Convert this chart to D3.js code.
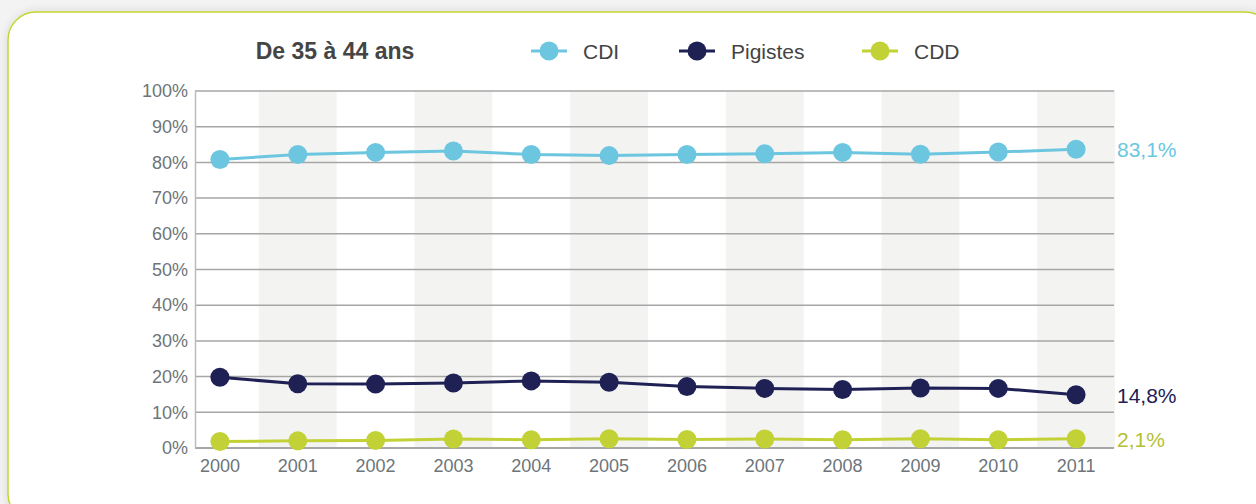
<!DOCTYPE html>
<html>
<head>
<meta charset="utf-8">
<script src="https://cdn.jsdelivr.net/npm/d3@7"></script>
<style>
  body { margin: 0; background: #f3f3f3; font-family: "Liberation Sans", Arial, sans-serif; }
  svg { display: block; }
</style>
</head>
<body>
<svg width="1256" height="504"></svg>
<script>
// data
var years = ["2000", "2001", "2002", "2003", "2004", "2005", "2006", "2007", "2008", "2009", "2010", "2011"];
var cdi = [80.8, 82.2, 82.8, 83.2, 82.2, 81.9, 82.2, 82.4, 82.8, 82.3, 82.9, 83.7];
var pigistes = [19.8, 18.0, 17.9, 18.2, 18.8, 18.4, 17.2, 16.7, 16.4, 16.8, 16.7, 14.9];
var cdd = [1.8, 2.0, 2.1, 2.5, 2.3, 2.6, 2.4, 2.5, 2.3, 2.6, 2.3, 2.6];
var yTicks = [0, 10, 20, 30, 40, 50, 60, 70, 80, 90, 100];
var endLabels = ["83,1%", "14,8%", "2,1%"];
var seriesNames = ["CDI", "Pigistes", "CDD"];
var title = "De 35 à 44 ans";

var colors = ["#6cc6e0", "#1f2155", "#c2d136"];
var labelColors = ["#6cc6e0", "#1f2155", "#b5bf35"];

var svg = d3.select("svg");

// card with soft shadow
var defs = svg.append("defs");
var f = defs.append("filter").attr("id", "sh").attr("x", "-5%").attr("y", "-5%").attr("width", "110%").attr("height", "110%");
f.append("feGaussianBlur").attr("in", "SourceAlpha").attr("stdDeviation", 5);
f.append("feComponentTransfer").append("feFuncA").attr("type", "linear").attr("slope", 0.12);
var m = f.append("feMerge");
m.append("feMergeNode");
m.append("feMergeNode").attr("in", "SourceGraphic");

svg.append("rect")
    .attr("x", 8).attr("y", 12)
    .attr("width", 1265).attr("height", 510)
    .attr("rx", 28).attr("ry", 28)
    .attr("fill", "#fff")
    .attr("stroke", "#c3d630")
    .attr("stroke-width", 1.5)
    .attr("filter", "url(#sh)");

var plotLeft = 195, plotRight = 1114, plotTop = 91, plotBottom = 448;

var x = d3.scaleBand().domain(years).range([181, 1115]).padding(0);
var y = d3.scaleLinear().domain([0, 100]).range([plotBottom, plotTop]);

// alternating background bands
svg.append("g").selectAll("rect")
    .data(years.filter(function (d, i) { return i % 2 == 1; }))
    .enter().append("rect")
    .attr("x", function (d) { return x(d); })
    .attr("y", plotTop)
    .attr("width", x.bandwidth())
    .attr("height", plotBottom - plotTop)
    .attr("fill", "#f3f3f2");

// gridlines
svg.append("g").selectAll("line")
    .data(yTicks)
    .enter().append("line")
    .attr("x1", plotLeft).attr("x2", plotRight)
    .attr("y1", function (d) { return y(d); })
    .attr("y2", function (d) { return y(d); })
    .attr("stroke", "#a6a6a6")
    .attr("stroke-width", function (d) { return d == 0 ? 2 : 1.5; });

// y axis
var yAxis = svg.append("g")
    .attr("transform", "translate(" + plotLeft + ",0)")
    .call(d3.axisLeft(y).tickValues(yTicks).tickSize(0).tickPadding(7)
        .tickFormat(function (d) { return d + "%"; }));
yAxis.select(".domain").attr("stroke", "#bbb").attr("stroke-width", 1.5);
yAxis.selectAll("text")
    .attr("fill", "#6d757a")
    .style("font-size", "18px")
    .style("font-family", "Liberation Sans, Arial, sans-serif");

// x axis
var xAxis = svg.append("g")
    .attr("transform", "translate(0," + plotBottom + ")")
    .call(d3.axisBottom(x).tickSize(0).tickPadding(11));
xAxis.select(".domain").remove();
xAxis.selectAll("text")
    .attr("fill", "#6d757a")
    .style("font-size", "18px")
    .style("font-family", "Liberation Sans, Arial, sans-serif");

// series
var series = [cdi, pigistes, cdd];
var line = d3.line()
    .x(function (d, i) { return x(years[i]) + x.bandwidth() / 2; })
    .y(function (d) { return y(d); });

series.forEach(function (vals, k) {
    svg.append("path")
        .datum(vals)
        .attr("fill", "none")
        .attr("stroke", colors[k])
        .attr("stroke-width", 3)
        .attr("d", line);
    svg.append("g").selectAll("circle")
        .data(vals)
        .enter().append("circle")
        .attr("cx", function (d, i) { return x(years[i]) + x.bandwidth() / 2; })
        .attr("cy", function (d) { return y(d); })
        .attr("r", 9.5)
        .attr("fill", colors[k]);
    svg.append("text")
        .attr("x", 1117)
        .attr("y", y(vals[vals.length - 1]) + 8)
        .attr("fill", labelColors[k])
        .style("font-size", "21px")
        .text(endLabels[k]);
});

// title
svg.append("text")
    .attr("x", 335).attr("y", 59)
    .attr("text-anchor", "middle")
    .attr("fill", "#454545")
    .style("font-size", "23px")
    .style("font-weight", "bold")
    .text(title);

// legend
var legX = [549, 697, 880];
seriesNames.forEach(function (name, k) {
    var g = svg.append("g").attr("transform", "translate(" + legX[k] + ",51)");
    g.append("line").attr("x1", -18).attr("x2", 18).attr("stroke", colors[k]).attr("stroke-width", 3);
    g.append("circle").attr("r", 9.5).attr("fill", colors[k]);
    g.append("text")
        .attr("x", 34).attr("y", 7.5)
        .attr("fill", "#444")
        .style("font-size", "21px")
        .text(name);
});
</script>
</body>
</html>
